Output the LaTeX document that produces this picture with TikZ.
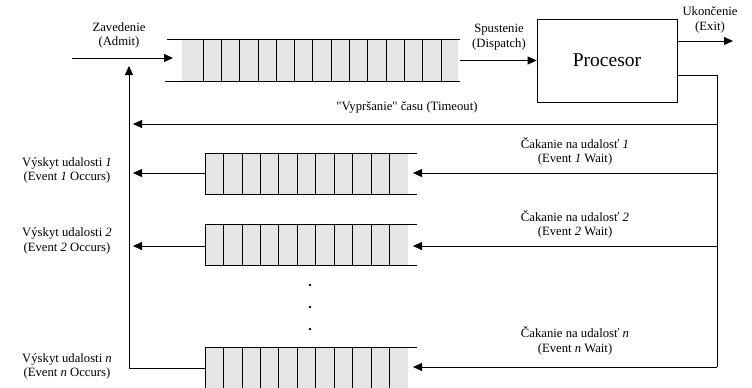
\documentclass[tikz,border=0pt]{standalone}
\usepackage{fontspec}
\setmainfont{Liberation Serif}
\usetikzlibrary{arrows.meta}
\begin{document}
\begin{tikzpicture}[x=1pt,y=-1pt,line width=0.8pt,
  >={Triangle[length=9pt,width=8pt]},
  lbl/.style={align=center,inner sep=0pt,font=\fontsize{12.7}{14.5}\selectfont},
  qfill/.style={fill=black!10},
  procbox/.style={draw,minimum width=140pt,minimum height=83pt,inner sep=0pt,font=\fontsize{19.5}{22}\selectfont}]
\useasboundingbox (0,0) rectangle (752,388);
\clip (0,0) rectangle (752,388);

% ---- ready queue
\fill[qfill] (182,39) rectangle (458,81);
\draw (167,39) -- (460,39);
\draw (165,81) -- (460,81);
\foreach \k in {0,...,13} \draw (203+\k*18.3,39) -- ++(0,42);

% ---- event queues
\foreach \yt in {153,224,347}{
  \fill[qfill] (205,\yt) rectangle (408,\yt+41);
  \draw (205,\yt) -- (417,\yt);
  \draw (205,\yt+41) -- (417,\yt+41);
  \foreach \k in {0,...,10} \draw (205+\k*18.45,\yt) -- ++(0,41);
}

% ---- processor
\node[procbox] (proc) at (607,60.5) {Procesor};

% ---- coordinates
\coordinate (inA) at (72,58);
\coordinate (q0in) at (173,58);
\coordinate (q0out) at (460,60.5);
\coordinate (exitEnd) at (733,41);
\coordinate (R) at (717,75);
\coordinate (Rb) at (717,367);
\coordinate (Lt) at (129,66);
\coordinate (Lb) at (129,368);
\coordinate (q3out) at (205,368);
\coordinate (q3in) at (413,367);
\coordinate (tR) at (717,124);
\coordinate (tL) at (133,124);
\coordinate (q1in) at (413,173);
\coordinate (q1out) at (205,173);
\coordinate (e1) at (133,173);
\coordinate (w1) at (717,173);
\coordinate (q2in) at (413,246);
\coordinate (q2out) at (205,246);
\coordinate (e2) at (133,246);
\coordinate (w2) at (717,246);

% ---- connectors
\draw[->] (inA) -- (q0in);
\draw[->] (q0out) -- (proc.west);
\draw[->] (proc.east |- exitEnd) -- (exitEnd);
\draw (proc.east |- R) -- (R) -- (Rb);
\draw[->] (Rb) -- (q3in);
\draw[->] (q3out) -- (Lb) -- (Lt);
\draw[->] (tR) -- (tL);
\draw[->] (w1) -- (q1in);
\draw[->] (q1out) -- (e1);
\draw[->] (w2) -- (q2in);
\draw[->] (q2out) -- (e2);

% ---- dots
\foreach \yy in {285,307,329} \fill (310,\yy) circle (1.3pt);

% ---- labels
\node[lbl] (lAdmit) at (119,35.5) {Zavedenie\\(Admit)};
\node[lbl] (lDisp) at (499,37) {Spustenie\\(Dispatch)};
\node[lbl] (lExit) at (710,19.7) {Ukončenie\\(Exit)};
\node[lbl] (lTime) at (407,107) {\textquotedbl Vypršanie\textquotedbl{} času (Timeout)};
\node[lbl] (lW1) at (575,151.5) {Čakanie na udalosť \textit{1}\\(Event \textit{1} Wait)};
\node[lbl] (lW2) at (575,224.5) {Čakanie na udalosť \textit{2}\\(Event \textit{2} Wait)};
\node[lbl] (lWn) at (575,341) {Čakanie na udalosť \textit{n}\\(Event \textit{n} Wait)};
\node[lbl] (lO1) at (67,170.5) {Výskyt udalosti \textit{1}\\(Event \textit{1} Occurs)};
\node[lbl] (lO2) at (67,241) {Výskyt udalosti \textit{2}\\(Event \textit{2} Occurs)};
\node[lbl] (lOn) at (67,366.5) {Výskyt udalosti \textit{n}\\(Event \textit{n} Occurs)};
\end{tikzpicture}
\end{document}
